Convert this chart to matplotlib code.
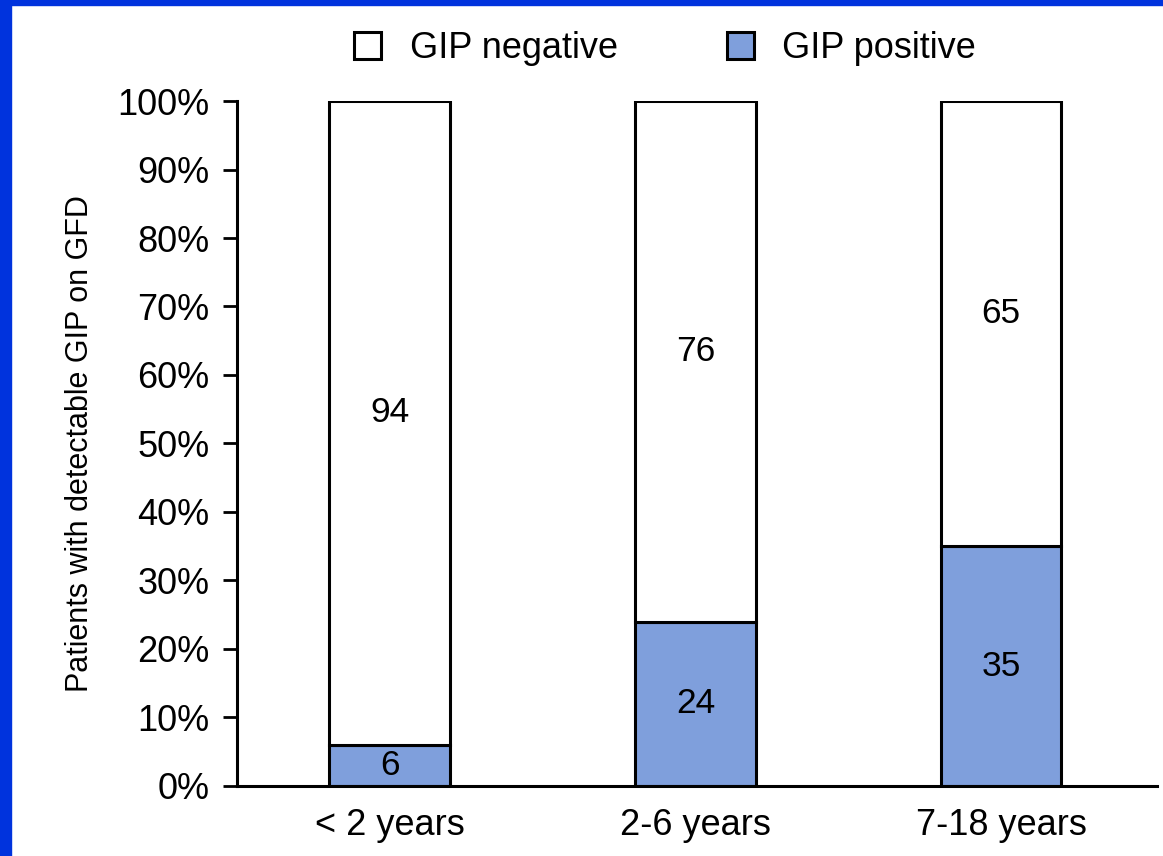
import matplotlib.pyplot as plt
import numpy as np
from matplotlib.patches import Rectangle, Patch

plt.rcParams['font.family'] = ['Liberation Sans', 'DejaVu Sans']

# age groups and share of patients (%)
age_groups = ['< 2 years', '2-6 years', '7-18 years']
gip_positive = [6, 24, 35]
gip_negative = [94, 76, 65]
y_ticks = [0, 10, 20, 30, 40, 50, 60, 70, 80, 90, 100]

pos_color = '#7f9fdc'
frame_blue = '#0033dd'

fig = plt.figure(figsize=(11.63, 8.56), dpi=100)
ax = fig.add_axes([0.2038, 0.0818, 0.791, 0.8002])

ind = np.arange(len(age_groups))
width = 0.395

b_pos = ax.bar(ind, gip_positive, width, color=pos_color, edgecolor='black', linewidth=2.2)
b_neg = ax.bar(ind, gip_negative, width, bottom=gip_positive, color='white',
               edgecolor='black', linewidth=2.2)

# value labels in the middle of each segment
for i in ind:
    ax.text(i, gip_positive[i] / 2, '%d' % gip_positive[i], ha='center', va='center', fontsize=25.5)
    ax.text(i, gip_positive[i] + gip_negative[i] / 2 + 1.5, '%d' % gip_negative[i],
            ha='center', va='center', fontsize=25.5)

ax.set_xlim(-0.5, 2.51)
ax.set_ylim(0, 100)
ax.set_yticks(y_ticks)
ax.set_yticklabels(['%d%%' % t for t in y_ticks])
ax.set_xticks(ind)
ax.set_xticklabels(age_groups)
ax.tick_params(axis='y', length=10, width=2, labelsize=26, pad=10)
ax.tick_params(axis='x', length=0, labelsize=26, pad=16)
ax.set_ylabel('Patients with detectable GIP on GFD', fontsize=22, labelpad=16)

for side in ['top', 'right']:
    ax.spines[side].set_visible(False)
for side in ['left', 'bottom']:
    ax.spines[side].set_linewidth(2.2)

handles = [Patch(facecolor='white', edgecolor='black', linewidth=2.2),
           Patch(facecolor=pos_color, edgecolor='black', linewidth=2.2)]
fig.legend(handles, ['GIP negative', 'GIP positive'], loc='center',
           bbox_to_anchor=(0.572, 0.943), ncol=2, frameon=False, fontsize=26,
           handlelength=0.75, handleheight=0.75, handletextpad=0.8, columnspacing=3.0)

# blue frame along the left and top edges
fig.patches.append(Rectangle((0, 0), 11 / 1163, 1, transform=fig.transFigure,
                             color=frame_blue, zorder=10))
fig.patches.append(Rectangle((0, 1 - 5 / 856), 1, 5 / 856, transform=fig.transFigure,
                             color=frame_blue, zorder=10))

fig.savefig('out.png', dpi=100)
